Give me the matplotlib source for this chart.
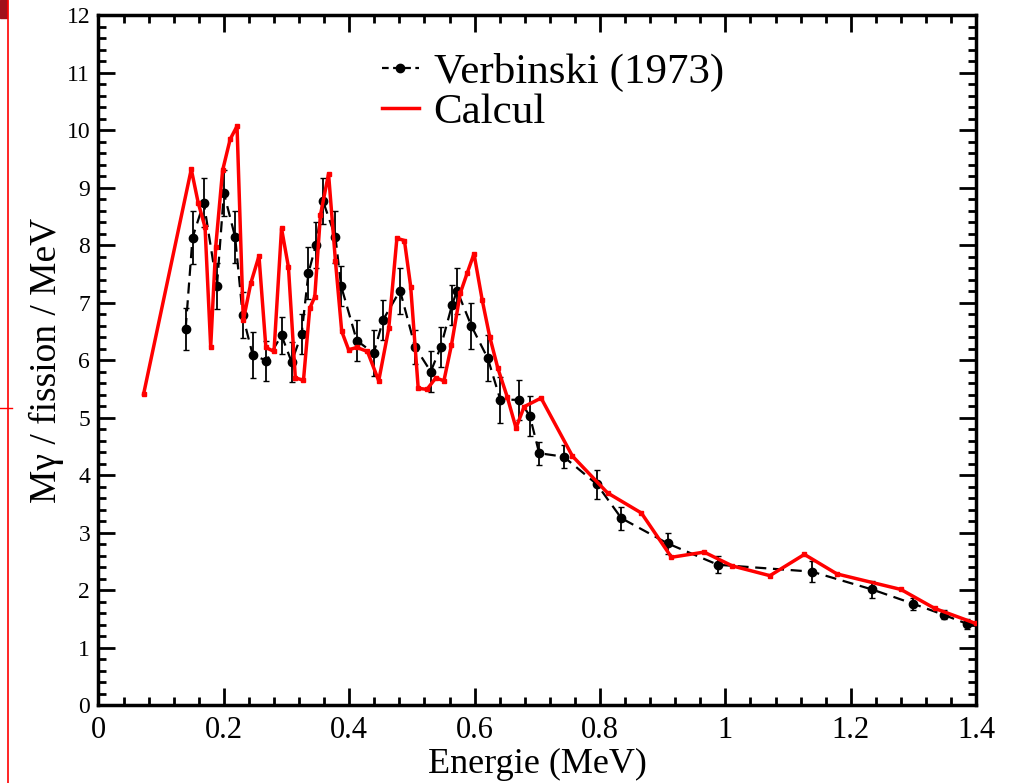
import numpy as np
import matplotlib
matplotlib.use("Agg")
import matplotlib.pyplot as plt
from matplotlib.ticker import MultipleLocator
from matplotlib.lines import Line2D
from matplotlib.patches import Rectangle

plt.rcParams['font.family'] = ['Liberation Serif', 'DejaVu Serif']

# Verbinski (1973) measured points
verb_e = [0.139, 0.150, 0.168, 0.189, 0.200, 0.218, 0.230, 0.246, 0.268, 0.292,
          0.308, 0.324, 0.335, 0.347, 0.358, 0.378, 0.387, 0.412, 0.439, 0.454,
          0.481, 0.505, 0.530, 0.546, 0.564, 0.572, 0.595, 0.621, 0.641, 0.671,
          0.688, 0.703, 0.742, 0.795, 0.834, 0.908, 0.988, 1.138, 1.234, 1.300,
          1.348, 1.386]
verb_m = [6.54, 8.13, 8.74, 7.29, 8.91, 8.14, 6.78, 6.09, 5.99, 6.43,
          5.97, 6.45, 7.52, 8.01, 8.77, 8.14, 7.29, 6.34, 6.12, 6.70,
          7.21, 6.23, 5.80, 6.23, 6.96, 7.21, 6.59, 6.03, 5.31, 5.31,
          5.03, 4.38, 4.32, 3.84, 3.25, 2.81, 2.44, 2.32, 2.01, 1.76,
          1.57, 1.41]
verb_err = [0.36, 0.46, 0.42, 0.40, 0.40, 0.45, 0.40, 0.40, 0.35, 0.32,
            0.35, 0.35, 0.45, 0.40, 0.40, 0.45, 0.35, 0.35, 0.40, 0.35,
            0.40, 0.30, 0.35, 0.35, 0.35, 0.40, 0.40, 0.40, 0.40, 0.35,
            0.35, 0.20, 0.20, 0.25, 0.20, 0.18, 0.15, 0.18, 0.15, 0.10,
            0.08, 0.08]

# Calcul
calc_e = [0.072, 0.148, 0.159, 0.170, 0.179, 0.187, 0.198, 0.210, 0.221, 0.231,
          0.243, 0.256, 0.267, 0.280, 0.292, 0.303, 0.314, 0.327, 0.337, 0.345,
          0.354, 0.367, 0.378, 0.388, 0.399, 0.412, 0.429, 0.447, 0.463, 0.476,
          0.488, 0.498, 0.510, 0.524, 0.538, 0.551, 0.563, 0.577, 0.588, 0.599,
          0.612, 0.624, 0.637, 0.652, 0.666, 0.679, 0.706, 0.756, 0.812, 0.866,
          0.914, 0.966, 1.011, 1.071, 1.126, 1.178, 1.280, 1.334, 1.399]
calc_m = [5.41, 9.32, 8.74, 8.31, 6.23, 7.97, 9.30, 9.84, 10.07, 6.69,
          7.34, 7.81, 6.22, 6.15, 8.29, 7.62, 5.69, 5.65, 6.90, 7.10,
          8.52, 9.24, 7.72, 6.50, 6.18, 6.22, 6.15, 5.64, 6.55, 8.12,
          8.08, 7.28, 5.51, 5.49, 5.69, 5.64, 6.26, 7.16, 7.51, 7.85,
          7.05, 6.41, 5.86, 5.36, 4.82, 5.19, 5.34, 4.33, 3.69, 3.34,
          2.57, 2.66, 2.42, 2.25, 2.62, 2.28, 2.01, 1.68, 1.42]

fig = plt.figure(figsize=(10.1, 7.83), dpi=100)
ax = fig.add_axes([0.0975, 0.0996, 0.869, 0.881])

ax.plot(calc_e, calc_m, color='red', lw=2.5, marker='s', ms=3, zorder=3)
ax.errorbar(verb_e, verb_m, yerr=verb_err, color='black', ls=(0, (5, 3)), lw=1.6,
            marker='o', ms=6, capsize=2.5, elinewidth=1.3, zorder=2)

ax.set_xlim(0, 1.4)
ax.set_ylim(0, 12)
ax.xaxis.set_major_locator(MultipleLocator(0.2))
ax.xaxis.set_minor_locator(MultipleLocator(0.04))
ax.yaxis.set_major_locator(MultipleLocator(1))
ax.yaxis.set_minor_locator(MultipleLocator(0.2))
ax.xaxis.set_major_formatter(plt.FuncFormatter(lambda v, p: f"{v:g}"))
ax.tick_params(which='both', direction='in', top=True, right=True, width=2)
ax.tick_params(which='major', length=12)
ax.tick_params(which='minor', length=6)
ax.tick_params(axis='x', labelsize=22, pad=8)
ax.tick_params(axis='y', labelsize=17, pad=6)
for s in ax.spines.values():
    s.set_linewidth(2.5)

ax.set_xlabel('Energie (MeV)', fontsize=26, labelpad=2)
ax.set_ylabel('Mγ / fission / MeV', fontsize=27, labelpad=2)

handles = [Line2D([], [], color='black', ls=(0, (3, 2)), lw=1.6, marker='o', ms=6,
                  markevery=[0, 1]),
           Line2D([], [], color='red', lw=2.5)]
ax.legend(handles, ['Verbinski (1973)', 'Calcul'], loc='upper left',
          bbox_to_anchor=(0.323, 0.946), frameon=False, fontsize=31,
          handlelength=0.85, handletextpad=0.35, labelspacing=0.02,
          borderpad=0, borderaxespad=0)

# slide remnants on the left edge
fig.add_artist(Line2D([0.008, 0.008], [0, 1], color='red', lw=1.2, transform=fig.transFigure))
fig.add_artist(Rectangle((0, 0.977), 0.007, 0.023, color='#a0101a', transform=fig.transFigure))
fig.add_artist(Line2D([0, 0.012], [0.479, 0.479], color='red', lw=1.0, transform=fig.transFigure))

fig.savefig('out.png', dpi=100)
